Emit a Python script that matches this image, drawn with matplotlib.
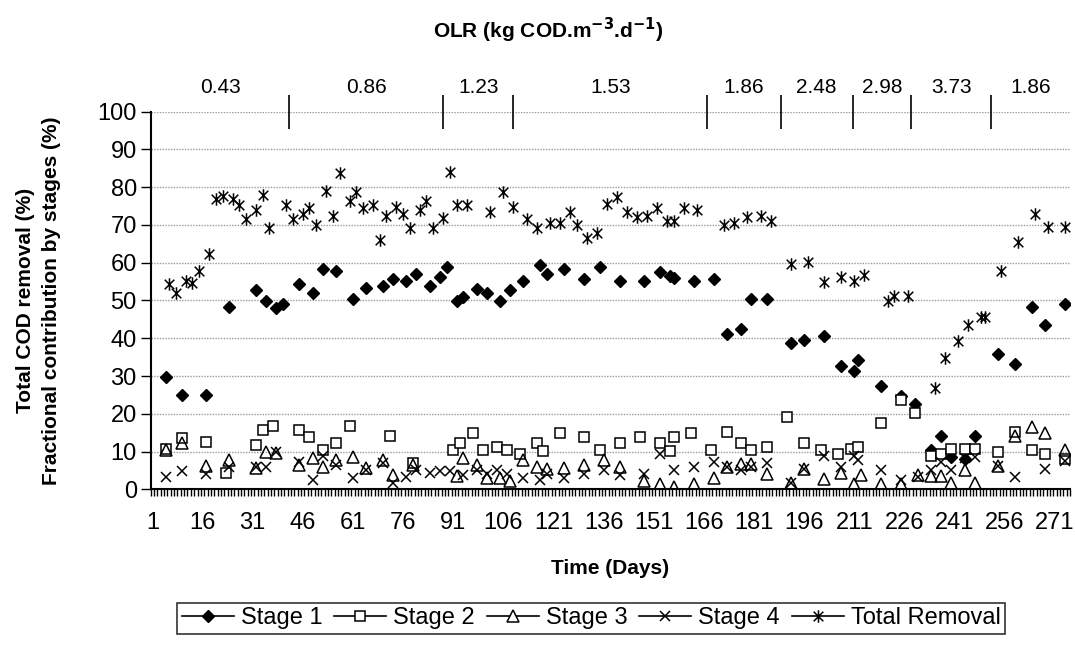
import matplotlib
matplotlib.use("Agg")
import matplotlib.pyplot as plt
import numpy as np
from matplotlib.path import Path
from matplotlib.lines import Line2D

plt.rcParams['font.family'] = ['Liberation Sans', 'DejaVu Sans']
plt.rcParams['font.size'] = 17

##  data (day, value)
s1_day = [5, 10, 17, 24, 32, 35, 38, 40, 45, 49, 52, 56, 61, 65, 70, 73, 77, 80, 84, 87, 89, 92, 94, 98,
          101, 105, 108, 112, 117, 119, 124, 130, 135, 141, 148, 153, 156, 157, 163, 169, 173, 177, 180,
          185, 192, 196, 202, 207, 211, 212, 219, 225, 229, 234, 237, 240, 244, 247, 254, 259, 264, 268, 274]
s1_val = [29.8, 24.9, 24.9, 48.4, 52.8, 49.9, 47.9, 49, 54.4, 51.9, 58.3, 57.8, 50.3, 53.2, 53.9, 55.7,
          55.2, 56.9, 53.9, 56.3, 58.8, 49.9, 50.8, 53, 51.9, 49.9, 52.8, 55.2, 59.4, 57, 58.3, 55.7, 58.8,
          55.2, 55.2, 57.6, 56.5, 56, 55.2, 55.7, 41, 42.5, 50.3, 50.3, 38.7, 39.5, 40.6, 32.7, 31.3, 34.2,
          27.4, 24.7, 22.6, 10.4, 14.2, 8.6, 7.9, 14.2, 35.7, 33.2, 48.4, 43.5, 49]

s2_day = [5, 10, 17, 23, 32, 34, 37, 45, 48, 52, 56, 60, 72, 79, 91, 93, 97, 100, 104, 107, 111, 116, 118,
          123, 130, 135, 141, 147, 153, 156, 157, 162, 168, 173, 177, 180, 185, 191, 196, 201, 206, 210,
          212, 219, 225, 229, 234, 237, 240, 244, 247, 254, 259, 264, 268, 274]
s2_val = [10.6, 13.7, 12.6, 4.4, 11.6, 15.7, 16.8, 15.7, 13.8, 10.4, 12.3, 16.8, 14.1, 6.9, 10.4, 12.3,
          14.8, 10.4, 11.3, 10.4, 9.3, 12.3, 10.2, 14.8, 13.8, 10.4, 12.3, 13.8, 12.3, 10.2, 13.8, 14.8,
          10.4, 15.3, 12.3, 10.4, 11.3, 19.2, 12.3, 10.4, 9.3, 10.8, 11.3, 17.6, 23.6, 20.1, 8.8, 9.3,
          10.8, 10.8, 10.8, 9.8, 15.3, 10.4, 9.3, 8]

s3_day = [5, 10, 17, 24, 32, 35, 38, 45, 49, 52, 56, 61, 65, 70, 73, 79, 92, 94, 98, 101, 105, 108, 112,
          116, 119, 124, 130, 136, 141, 148, 153, 157, 163, 169, 173, 177, 180, 185, 192, 196, 202, 207,
          211, 213, 219, 225, 230, 234, 237, 240, 244, 247, 254, 259, 264, 268, 274]
s3_val = [10.4, 12.3, 6.2, 7.8, 5.6, 10, 9.7, 6.4, 8.2, 5.8, 7.8, 8.6, 5.6, 7.8, 3.8, 6.4, 3.6, 8.2, 6.4,
          2.9, 2.9, 2.3, 7.8, 5.8, 5.3, 5.6, 6.4, 7.8, 5.8, 2.3, 1.4, 0.7, 1.4, 2.9, 5.8, 6.7, 6.7, 4, 1.6,
          5.3, 2.6, 4.4, 1.4, 3.8, 1.4, 1.4, 3.8, 3.6, 3.6, 1.6, 5.1, 1.6, 6.2, 14.1, 16.6, 15, 10.5]

s4_day = [5, 10, 17, 24, 32, 35, 38, 45, 49, 52, 56, 61, 65, 70, 73, 77, 80, 84, 87, 90, 94, 98, 101, 104,
          107, 112, 117, 119, 124, 130, 136, 141, 148, 153, 157, 163, 169, 173, 177, 180, 185, 192, 196,
          202, 207, 211, 212, 219, 225, 230, 234, 237, 240, 244, 247, 254, 259, 268, 274]
s4_val = [3.3, 4.9, 4, 5.8, 5.8, 5.8, 10, 7.3, 2.5, 8.8, 6.4, 2.9, 5.1, 7, 1.6, 3.3, 5.1, 4.4, 4.9, 4.9,
          3.8, 5.1, 4, 5.1, 4, 2.9, 2.5, 4, 2.9, 4, 5.1, 3.8, 4, 9.3, 5.1, 5.8, 7.3, 5.8, 5.1, 5.8, 7, 1.6,
          5.3, 8.8, 5.8, 8.8, 7.8, 5.1, 2.5, 3.3, 5.1, 7.3, 5.1, 8.2, 8.5, 6.2, 3.3, 5.3, 7.5]

tot_day = [6, 8, 11, 13, 15, 18, 20, 22, 25, 27, 29, 32, 34, 36, 41, 43, 46, 48, 50, 53, 55, 57, 60, 62,
           64, 67, 69, 71, 74, 76, 78, 81, 83, 85, 88, 90, 92, 95, 102, 106, 109, 113, 116, 120, 123, 126,
           128, 131, 134, 137, 140, 143, 146, 149, 152, 155, 157, 160, 164, 172, 175, 179, 183, 186, 192,
           197, 202, 207, 211, 214, 221, 223, 227, 235, 238, 242, 245, 249, 250, 255, 260, 265, 269, 274]
tot_val = [54.4, 51.9, 55.2, 54.7, 57.8, 62.2, 76.9, 77.7, 76.9, 75.3, 71.5, 74, 77.9, 69.1, 75.3, 71.5,
           72.8, 74.4, 70, 79, 72.4, 83.7, 76.3, 78.8, 74.4, 75.3, 66, 72.4, 74.7, 72.8, 69.1, 74, 76.3,
           69.1, 71.9, 84.1, 75.3, 75.3, 73.4, 78.8, 74.7, 71.5, 69.1, 70.4, 70.4, 73.4, 70, 66.6, 68,
           75.5, 77.3, 73.4, 72.2, 72.4, 74.4, 71.1, 71.1, 74.4, 74, 70, 70.6, 72, 72.4, 71.1, 59.7, 60.3,
           54.8, 56.3, 55.2, 56.8, 49.9, 51.3, 51.3, 26.9, 34.7, 39.3, 43.5, 45.5, 45.5, 57.8, 65.6, 72.9,
           69.5, 69.5]

##  OLR periods (boundaries in days) and loads
olr_bounds = [0.5, 42, 88, 109, 167, 189, 210.5, 228, 252, 275.5]
olr_labels = ['0.43', '0.86', '1.23', '1.53', '1.86', '2.48', '2.98', '3.73', '1.86']
xtick_days = list(range(1, 272, 15))

# asterisk like excel: x with vertical bar
star = Path([(-1, -1), (1, 1), (-1, 1), (1, -1), (0, -1.3), (0, 1.3)],
            [Path.MOVETO, Path.LINETO, Path.MOVETO, Path.LINETO, Path.MOVETO, Path.LINETO])

fig = plt.figure(figsize=(10.75, 6.46), dpi=100)
ax = fig.add_axes([0.1402, 0.2426, 0.8551, 0.5845])

ax.plot(s1_day, s1_val, ls='none', marker='D', ms=6.5, mfc='k', mec='k')
ax.plot(s2_day, s2_val, ls='none', marker='s', ms=7, mfc='white', mec='k', mew=1.1)
ax.plot(s3_day, s3_val, ls='none', marker='^', ms=8, mfc='none', mec='k', mew=1.1)
ax.plot(s4_day, s4_val, ls='none', marker='x', ms=7, mec='k', mew=1.1)
ax.plot(tot_day, tot_val, ls='none', marker=star, ms=9, mec='k', mew=1.1)

ax.set_xlim(0.5, 275.5)
ax.set_ylim(0, 100)
ax.set_yticks(np.arange(0, 101, 10))
ax.set_xticks(xtick_days)
ax.set_xticks(np.arange(0.5, 276, 1), minor=True)
ax.tick_params(axis='x', which='major', length=0, pad=16)
ax.tick_params(axis='x', which='minor', length=5, width=1, direction='out')
ax.tick_params(axis='y', length=7, width=1, direction='out', pad=3)

ax.yaxis.grid(True, color='#9a9a9a', ls=(0, (1, 1)), lw=1)
ax.set_axisbelow(True)
for s in ['top', 'right']:
    ax.spines[s].set_visible(False)
for s in ['left', 'bottom']:
    ax.spines[s].set_linewidth(1.5)

ax.set_xlabel('Time (Days)', fontweight='bold', fontsize=15)
ax.xaxis.set_label_coords(0.5, -0.185)
fig.text(0.036, 0.535, 'Total COD removal (%)\nFractional contribution by stages (%)',
         fontweight='bold', fontsize=15, rotation=90, ha='center', va='center',
         linespacing=1.45)

# OLR period dividers on top
ax2 = ax.twiny()
ax2.set_xlim(ax.get_xlim())
ax2.set_xticks(olr_bounds[1:-1])
ax2.set_xticklabels([])
ax2.tick_params(axis='x', direction='inout', length=25, width=1.2)
for s in ax2.spines.values():
    s.set_visible(False)
for i, lab in enumerate(olr_labels):
    mid = 0.5 * (olr_bounds[i] + olr_bounds[i + 1])
    ax.text(mid, 1.063, lab, transform=ax.get_xaxis_transform(), ha='center', va='center',
            fontsize=15)

fig.text(0.51, 0.953, r'OLR (kg COD.m$^{\mathbf{-3}}$.d$^{\mathbf{-1}}$)', fontweight='bold',
         fontsize=15, ha='center', va='center')

handles = [
    Line2D([], [], color='k', lw=1.2, marker='D', ms=6.5, mfc='k'),
    Line2D([], [], color='k', lw=1.2, marker='s', ms=7, mfc='white', mew=1.1),
    Line2D([], [], color='k', lw=1.2, marker='^', ms=8, mfc='white', mew=1.1),
    Line2D([], [], color='k', lw=1.2, marker='x', ms=7, mew=1.1),
    Line2D([], [], color='k', lw=1.2, marker=star, ms=9, mew=1.1),
]
leg = fig.legend(handles, ['Stage 1', 'Stage 2', 'Stage 3', 'Stage 4', 'Total Removal'],
                 loc='upper center', bbox_to_anchor=(0.55, 0.067), ncol=5, frameon=True,
                 fancybox=False, edgecolor='k', handlelength=2.2, handletextpad=0.3,
                 columnspacing=0.5, borderpad=0.2, borderaxespad=0, fontsize=17)
leg.get_frame().set_linewidth(1.2)

fig.savefig('out.png', dpi=100)
